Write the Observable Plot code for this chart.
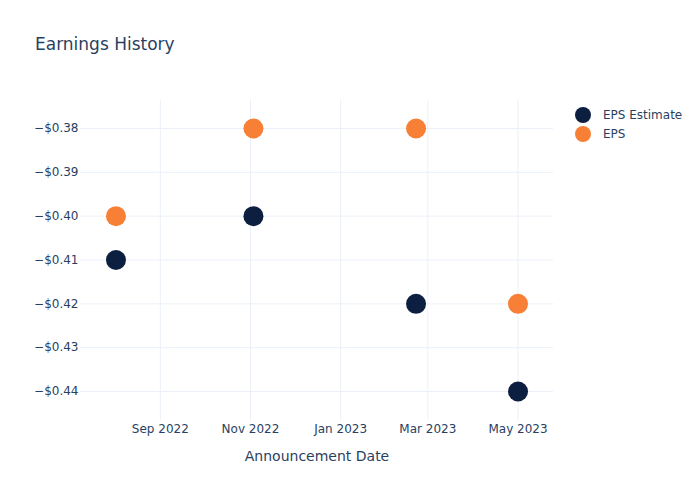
<!DOCTYPE html>
<html>
<head>
<meta charset="utf-8">
<script src="https://cdn.jsdelivr.net/npm/d3@7"></script>
<script src="https://cdn.jsdelivr.net/npm/@observablehq/plot@0.6"></script>
<style>
  body { margin: 0; background: #fff; font-family: "DejaVu Sans", sans-serif; }
  #wrap { position: relative; width: 700px; height: 500px; }
  #title { position: absolute; left: 35px; top: 34px; font-size: 17px; color: #2a3f5f; }
  .leg { position: absolute; left: 575px; font-size: 12px; color: #2a3f5f; display: flex; align-items: center; }
  .leg span.dot { display: inline-block; width: 16px; height: 16px; border-radius: 50%; margin-right: 12px; }
</style>
</head>
<body>
<div id="wrap">
  <div id="title">Earnings History</div>
  <div class="leg" style="top:107px"><span class="dot" style="background:#0c1f40"></span>EPS Estimate</div>
  <div class="leg" style="top:126px"><span class="dot" style="background:#f78036"></span>EPS</div>
</div>
<script>
const dates = ["2022-08-02", "2022-11-03", "2023-02-21", "2023-05-01"];
const epsEstimate = [-0.41, -0.40, -0.42, -0.44];
const eps = [-0.40, -0.38, -0.38, -0.42];
const seriesNames = ["EPS Estimate", "EPS"];
const seriesColors = ["#0c1f40", "#f78036"];
const yTicks = [-0.38, -0.39, -0.40, -0.41, -0.42, -0.43, -0.44];
const xTicks = ["2022-09-01", "2022-11-01", "2023-01-01", "2023-03-01", "2023-05-01"];

const parse = d3.utcParse("%Y-%m-%d");
const rows = [];
dates.forEach((d, i) => {
  rows.push({date: parse(d), value: epsEstimate[i], series: seriesNames[0]});
});
dates.forEach((d, i) => {
  rows.push({date: parse(d), value: eps[i], series: seriesNames[1]});
});

const fmtY = v => "\u2212$" + Math.abs(v).toFixed(2);
const fmtX = d3.utcFormat("%b %Y");

const chart = Plot.plot({
  width: 700,
  height: 500,
  marginLeft: 80,
  marginRight: 147,
  marginTop: 100,
  marginBottom: 80,
  style: {fontFamily: "DejaVu Sans, sans-serif", fontSize: "12px", color: "#2a3f5f", background: "transparent"},
  x: {type: "utc", domain: [parse("2022-07-09"), parse("2023-05-25")]},
  y: {domain: [-0.44662, -0.37361]},
  color: {domain: seriesNames, range: seriesColors},
  marks: [
    Plot.gridX(xTicks.map(parse), {stroke: "#ebf0f8", strokeOpacity: 1, strokeWidth: 1}),
    Plot.gridY(yTicks, {stroke: "#ebf0f8", strokeOpacity: 1, strokeWidth: 1}),
    Plot.axisX(xTicks.map(parse), {tickSize: 0, tickPadding: 4, tickFormat: fmtX, fontSize: 12, fill: "#2a3f5f", label: null}),
    Plot.axisY(yTicks, {tickSize: 0, tickPadding: 2, tickFormat: fmtY, fontSize: 12, fill: "#2a3f5f", label: null}),
    Plot.text(["Announcement Date"], {frameAnchor: "bottom", dy: 40, fontSize: 14, fill: "#2a3f5f"}),
    Plot.dot(rows, {x: "date", y: "value", fill: "series", r: 10, stroke: "none"})
  ]
});
document.getElementById("wrap").prepend(chart);
chart.style.position = "absolute";
chart.style.left = "0";
chart.style.top = "0";
</script>
</body>
</html>
